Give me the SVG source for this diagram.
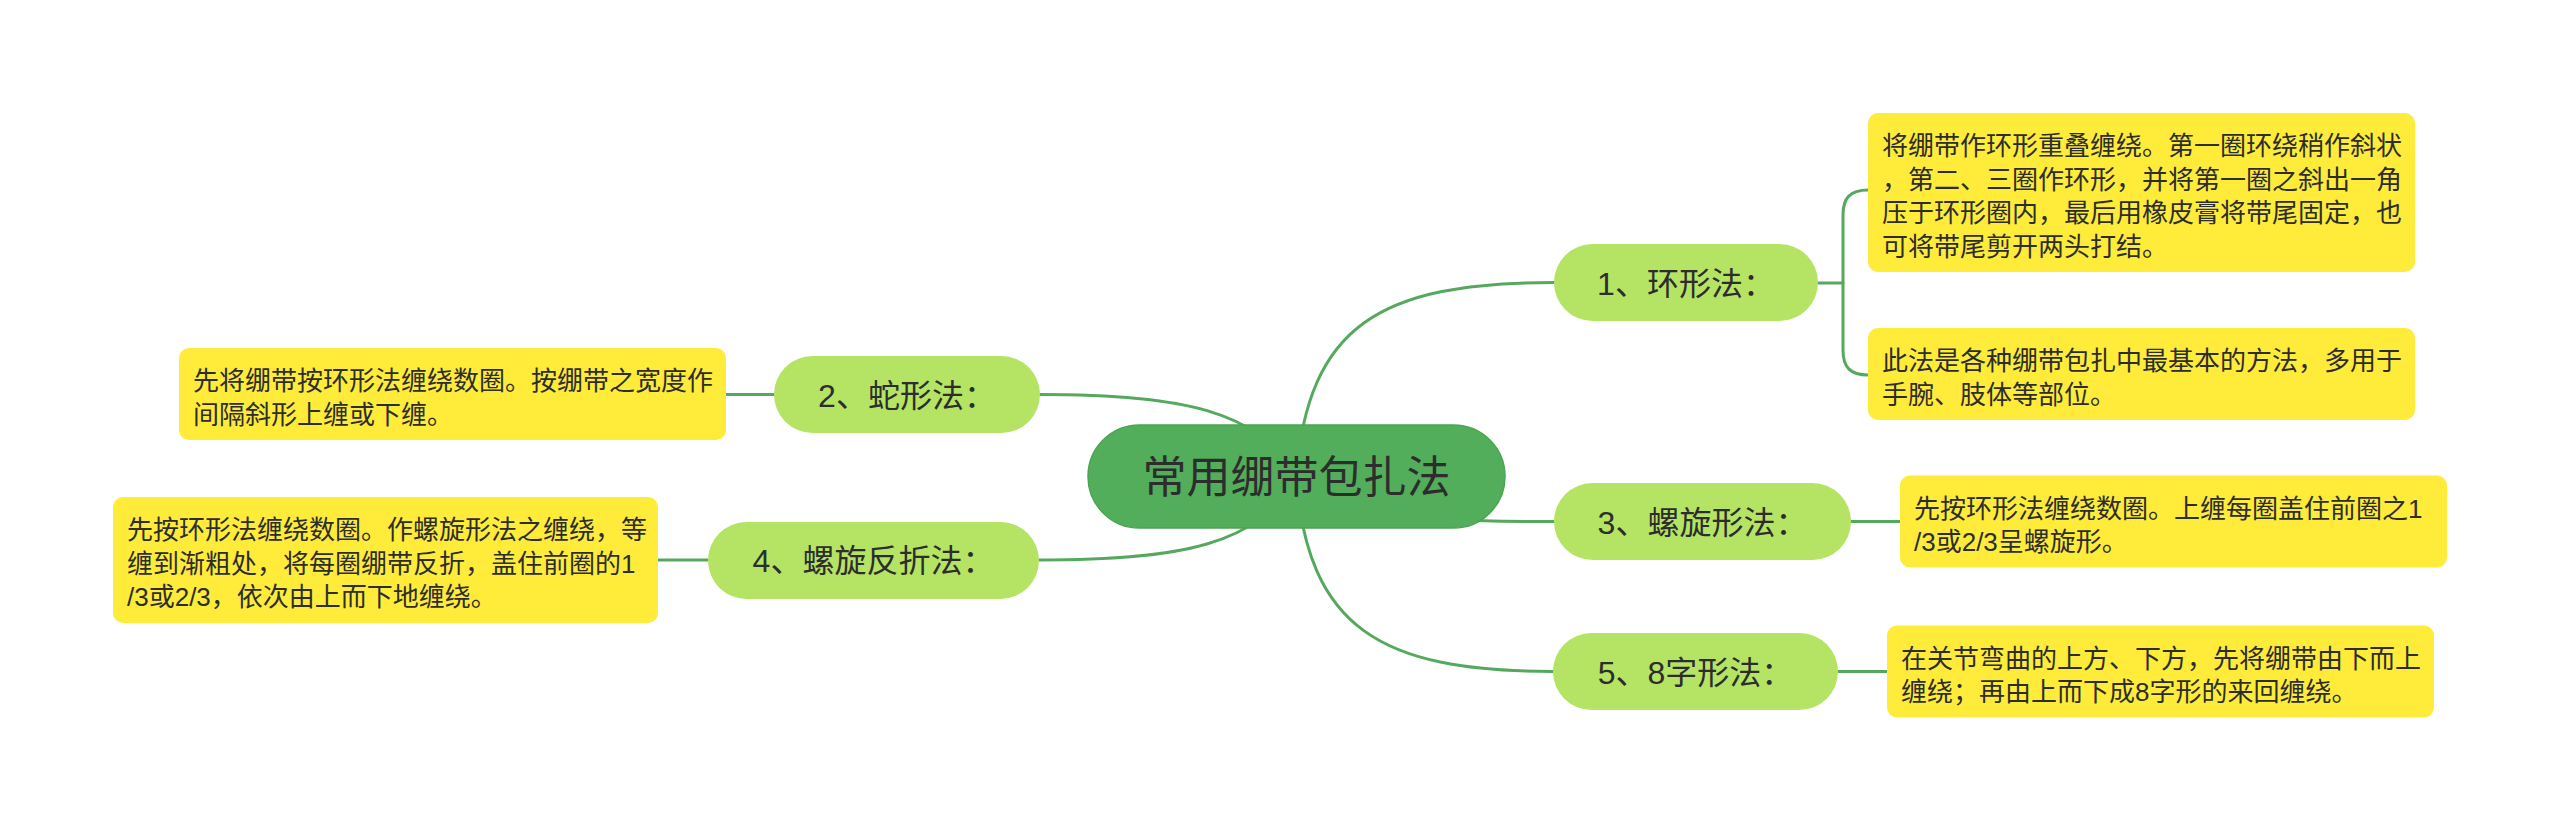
<svg xmlns="http://www.w3.org/2000/svg" width="2560" height="830" viewBox="0 0 2560 830">
<style>
.t{font-family:"Liberation Sans","Noto Sans CJK SC",sans-serif;fill:#2d2d2d}
.root{fill:#52ae5a;stroke:#4aa552;stroke-width:1.5}
.node{fill:#b5e464}
.box{fill:#feeb3a}
.rt{font-size:44px;text-anchor:middle}
.nt{font-size:32px;text-anchor:middle}
.bt{font-size:26px}
.c{fill:none;stroke:#55a95e;stroke-width:3;stroke-linecap:round}
</style>
<rect width="2560" height="830" fill="#ffffff"/>
<g id="connectors">
<path class="c" d="M1296,477 C1308,325 1380,282.5 1554,282.5"/>
<path class="c" d="M1296,477 C1260,410 1180,394.5 1040,394.5"/>
<path class="c" d="M1296,477 C1260,545 1180,560 1039,560"/>
<path class="c" d="M1296,477 C1400,521.5 1450,521.5 1554,521.5"/>
<path class="c" d="M1296,477 C1308,628 1380,671.5 1553,671.5"/>
<path class="c" d="M1818,283 H1843"/>
<path class="c" d="M1868,190 C1850,190 1843,198 1843,215 V350 C1843,367 1850,375 1868,375"/>
<path class="c" d="M774,394.5 H726"/>
<path class="c" d="M708,560 H658"/>
<path class="c" d="M1851,521.5 H1900"/>
<path class="c" d="M1838,671.5 H1887"/>
</g>
<g id="root">
<rect class="root" x="1088" y="425" width="417" height="103" rx="51.5"/>
<text class="t rt" x="1296.5" y="493">常用绷带包扎法</text>
</g>
<g id="n1">
<rect class="node" x="1554" y="244" width="264" height="77" rx="38.5"/>
<text class="t nt" x="1686" y="294.5">1、环形法：</text>
</g>
<g id="n1a">
<rect class="box" x="1868" y="113" width="547" height="159" rx="10"/>
<text class="t bt" x="1882" y="155">将绷带作环形重叠缠绕。第一圈环绕稍作斜状</text>
<text class="t bt" x="1882" y="188.5">，第二、三圈作环形，并将第一圈之斜出一角</text>
<text class="t bt" x="1882" y="222">压于环形圈内，最后用橡皮膏将带尾固定，也</text>
<text class="t bt" x="1882" y="255.5">可将带尾剪开两头打结。</text>
</g>
<g id="n1b">
<rect class="box" x="1868" y="328" width="547" height="92" rx="10"/>
<text class="t bt" x="1882" y="370">此法是各种绷带包扎中最基本的方法，多用于</text>
<text class="t bt" x="1882" y="403.5">手腕、肢体等部位。</text>
</g>
<g id="n2">
<rect class="node" x="774" y="356" width="266" height="77" rx="38.5"/>
<text class="t nt" x="907" y="406.5">2、蛇形法：</text>
</g>
<g id="n2a">
<rect class="box" x="179" y="348" width="547" height="92" rx="10"/>
<text class="t bt" x="193" y="390">先将绷带按环形法缠绕数圈。按绷带之宽度作</text>
<text class="t bt" x="193" y="423.5">间隔斜形上缠或下缠。</text>
</g>
<g id="n3">
<rect class="node" x="1554" y="483" width="297" height="77" rx="38.5"/>
<text class="t nt" x="1702.5" y="533.5">3、螺旋形法：</text>
</g>
<g id="n3a">
<rect class="box" x="1900" y="475.5" width="547" height="92" rx="10"/>
<text class="t bt" x="1914" y="517.5">先按环形法缠绕数圈。上缠每圈盖住前圈之1</text>
<text class="t bt" x="1914" y="551">/3或2/3呈螺旋形。</text>
</g>
<g id="n4">
<rect class="node" x="708" y="522" width="331" height="77" rx="38.5"/>
<text class="t nt" x="873.5" y="572">4、螺旋反折法：</text>
</g>
<g id="n4a">
<rect class="box" x="113" y="497" width="545" height="126" rx="10"/>
<text class="t bt" x="127" y="539">先按环形法缠绕数圈。作螺旋形法之缠绕，等</text>
<text class="t bt" x="127" y="572.5">缠到渐粗处，将每圈绷带反折，盖住前圈的1</text>
<text class="t bt" x="127" y="606">/3或2/3，依次由上而下地缠绕。</text>
</g>
<g id="n5">
<rect class="node" x="1553" y="633" width="285" height="77" rx="38.5"/>
<text class="t nt" x="1695.5" y="683.5">5、8字形法：</text>
</g>
<g id="n5a">
<rect class="box" x="1887" y="625.5" width="547" height="92" rx="10"/>
<text class="t bt" x="1901" y="667.5">在关节弯曲的上方、下方，先将绷带由下而上</text>
<text class="t bt" x="1901" y="701">缠绕；再由上而下成8字形的来回缠绕。</text>
</g>
</svg>
